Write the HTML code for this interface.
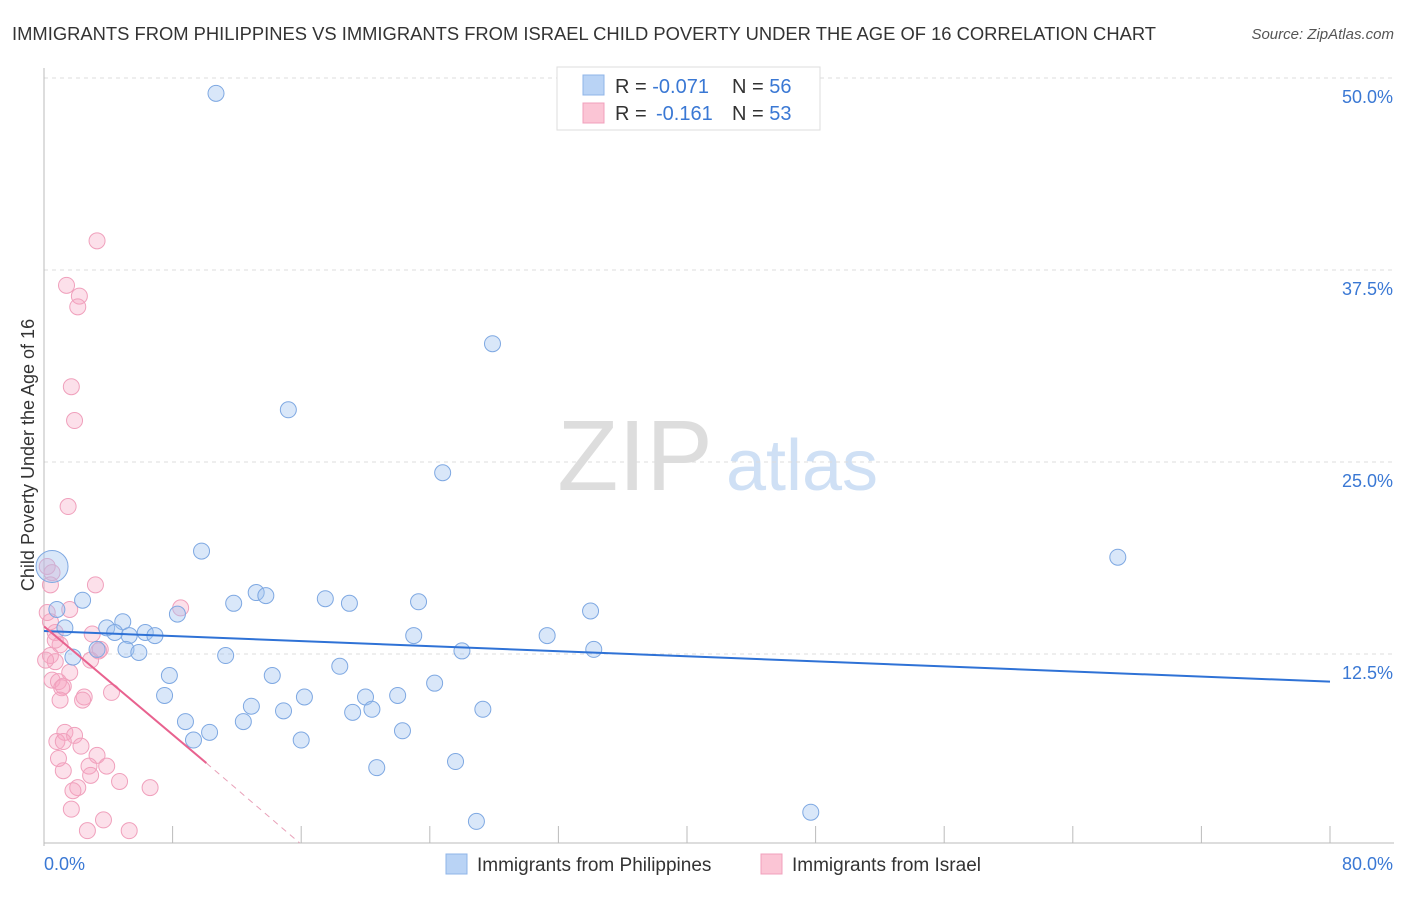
<!DOCTYPE html>
<html><head><meta charset="utf-8"><style>
body{margin:0;background:#fff;font-family:"Liberation Sans",sans-serif;}
svg text{font-family:"Liberation Sans",sans-serif;}
</style></head><body>
<svg id="chart" width="1406" height="892" xmlns="http://www.w3.org/2000/svg">
<text x="12" y="40" font-size="18" fill="#333" textLength="1144" lengthAdjust="spacingAndGlyphs">IMMIGRANTS FROM PHILIPPINES VS IMMIGRANTS FROM ISRAEL CHILD POVERTY UNDER THE AGE OF 16 CORRELATION CHART</text>
<text x="1394" y="39" font-size="15" fill="#555" font-style="italic" text-anchor="end">Source: ZipAtlas.com</text>
<g><text x="635" y="490" font-size="100" fill="#ddd" font-family="Liberation Serif" text-anchor="middle">ZIP</text><text x="802" y="490" font-size="72" fill="#cfe0f5" text-anchor="middle">atlas</text></g>
<g id="grid"></g><g id="axes"></g><g id="pts"></g><g id="lines"></g>
<text transform="translate(34,455) rotate(-90)" font-size="18" fill="#333" text-anchor="middle">Child Poverty Under the Age of 16</text>
<g>
<rect x="557" y="67" width="263" height="63" fill="#fff" stroke="#ddd"/>
<rect x="583" y="75" width="21" height="20" fill="#b9d3f5" stroke="#8fb4e8"/>
<rect x="583" y="103" width="21" height="20" fill="#fbc5d5" stroke="#f0a0bc"/>
<text x="615" y="93" font-size="20" fill="#333">R = <tspan fill="#3a78d4">-0.071</tspan><tspan x="732">N = </tspan><tspan fill="#3a78d4">56</tspan></text>
<text x="615" y="120" font-size="20" fill="#333">R = <tspan x="656" fill="#3a78d4">-0.161</tspan><tspan x="732">N = </tspan><tspan fill="#3a78d4">53</tspan></text>
</g>
<g>
<rect x="446" y="854" width="21" height="20" fill="#b9d3f5" stroke="#8fb4e8"/>
<text x="477" y="871" font-size="19" fill="#333">Immigrants from Philippines</text>
<rect x="761" y="854" width="21" height="20" fill="#fbc5d5" stroke="#f0a0bc"/>
<text x="792" y="871" font-size="19" fill="#333">Immigrants from Israel</text>
</g>
</svg>
<script>
const yTicks=[12.5,25,37.5,50];
const yTickLabels=["12.5%","25.0%","37.5%","50.0%"];
const xTicks=[0,8,16,24,32,40,48,56,64,72,80];
const xEndLabels=["0.0%","80.0%"];
const blueX=[10.7,27.9,15.2,24.8,9.8,66.8,0.5,0.8,2.4,1.3,4.9,3.9,4.4,5.3,6.3,6.9,8.3,11.8,13.2,13.8,17.5,19.0,23.3,34.0,23.0,31.3,5.1,3.3,1.8,5.9,26.0,34.2,11.3,7.8,14.2,18.4,7.5,16.2,20.0,22.0,24.3,12.9,14.9,19.2,20.4,27.3,8.8,10.3,12.4,9.3,16.0,22.3,25.6,20.7,26.9,47.7];
const blueY=[49.0,32.7,28.4,24.3,19.2,18.8,18.2,15.4,16.0,14.2,14.6,14.2,13.9,13.7,13.9,13.7,15.1,15.8,16.5,16.3,16.1,15.8,15.9,15.3,13.7,13.7,12.8,12.8,12.3,12.6,12.7,12.8,12.4,11.1,11.1,11.7,9.8,9.7,9.7,9.8,10.6,9.1,8.8,8.7,8.9,8.9,8.1,7.4,8.1,6.9,6.9,7.5,5.5,5.1,1.6,2.2];
const pinkX=[3.3,1.4,2.2,2.1,1.7,1.9,1.5,0.2,0.5,0.4,3.2,8.5,1.6,0.4,0.7,3.0,1.0,3.4,0.4,0.7,1.6,0.5,0.9,1.2,1.1,2.5,2.4,4.2,1.3,1.9,0.8,1.2,2.3,3.3,0.9,3.9,2.8,1.2,2.9,4.7,6.6,2.1,1.8,1.7,3.7,2.7,5.3,0.2,0.7,2.9,0.1,1.0,3.5];
const pinkY=[39.4,36.5,35.8,35.1,29.9,27.7,22.1,18.2,17.8,17.0,17.0,15.5,15.4,14.6,13.9,13.8,13.1,12.7,12.4,12.0,11.3,10.8,10.7,10.4,10.3,9.7,9.5,10.0,7.4,7.2,6.8,6.8,6.5,5.9,5.7,5.2,5.2,4.9,4.6,4.2,3.8,3.8,3.6,2.4,1.7,1.0,1.0,15.2,13.4,12.1,12.1,9.5,12.8];
const blueTrend=[[0,14.0],[80,10.7]];
const pinkTrend=[[0,14.3],[10.1,5.4]];
const pinkDash=[[10.1,5.4],[15.9,0.2]];
const xs=v=>44+v*16.075, ys=v=>846-v*15.36;
const NS="http://www.w3.org/2000/svg";
function mk(tag,attrs,parent){const e=document.createElementNS(NS,tag);for(const k in attrs)e.setAttribute(k,attrs[k]);document.getElementById(parent).appendChild(e);return e;}
yTicks.forEach((t,i)=>{
 const l=mk('line',{x1:44,x2:1394,y1:ys(t),y2:ys(t),stroke:'#ddd','stroke-dasharray':'4,4'},'grid');
 
 
 const tx=mk('text',{x:1393,y:ys(t)+25,'font-size':18,fill:'#3a78d4','text-anchor':'end'},'grid');tx.textContent=yTickLabels[i];
 
 
});
const ax=mk('line',{x1:44,x2:44,y1:68,y2:846,stroke:'#bbb'},'axes');


const bx=mk('line',{x1:44,x2:1394,y1:843,y2:843,stroke:'#bbb'},'axes');


xTicks.forEach(t=>{const l=mk('line',{x1:xs(t),x2:xs(t),y1:826,y2:843,stroke:'#bbb'},'axes');
 
 });
const xl0=mk('text',{x:44,y:870,'font-size':18,fill:'#3a78d4'},'axes');xl0.textContent=xEndLabels[0];


const xl1=mk('text',{x:1393,y:870,'font-size':18,fill:'#3a78d4','text-anchor':'end'},'axes');xl1.textContent=xEndLabels[1];


pinkX.forEach((x,i)=>{const c=mk('circle',{cx:xs(x),cy:ys(pinkY[i]),r:8,fill:'rgba(245,165,195,0.35)',stroke:'#f0a0bc','stroke-width':1},'pts');
 
 });
blueX.forEach((x,i)=>{const c=mk('circle',{cx:xs(x),cy:ys(blueY[i]),r:i===6?16:8,fill:'rgba(160,195,240,0.4)',stroke:'#7ea8e2','stroke-width':1},'pts');
 
 });
function ln(p,st,extra,name){const l=mk('line',Object.assign({x1:xs(p[0][0]),y1:ys(p[0][1]),x2:xs(p[1][0]),y2:ys(p[1][1]),stroke:st},extra),'lines');
 
 }
ln(blueTrend,'#2f72d6',{'stroke-width':2},'philippines-trend-line');
ln(pinkTrend,'#e8628f',{'stroke-width':2},'israel-trend-line');
ln(pinkDash,'#e8a0b8',{'stroke-width':1,'stroke-dasharray':'6,5'},'israel-trend-extension');
</script>
</body></html>
